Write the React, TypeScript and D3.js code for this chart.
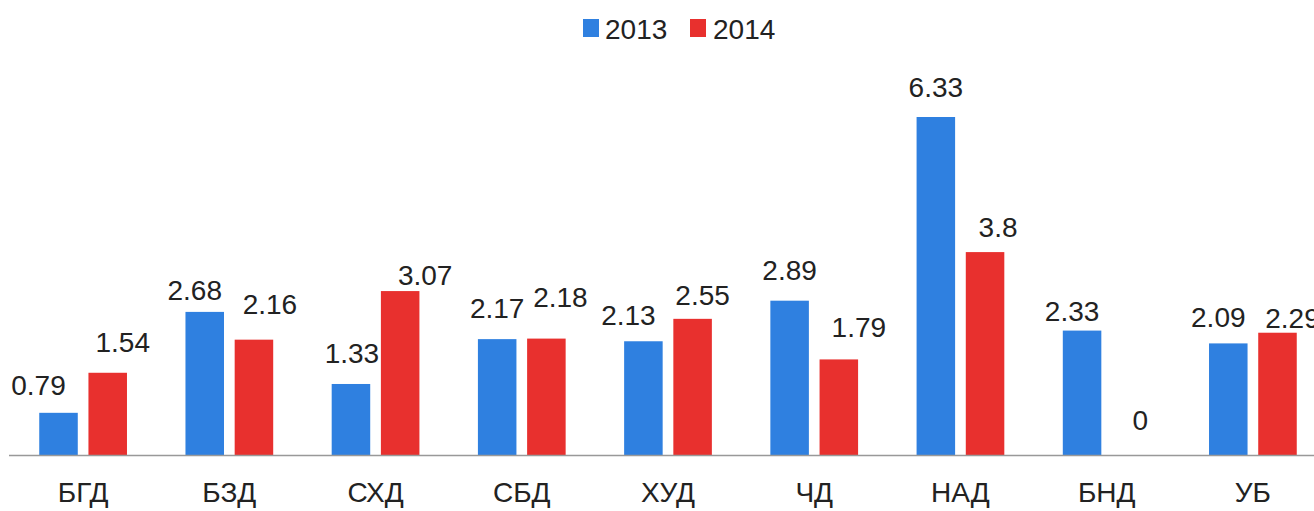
import React from "react";
import * as d3 from "d3";

const categories = ["БГД", "БЗД", "СХД", "СБД", "ХУД", "ЧД", "НАД", "БНД", "УБ"];
const seriesNames = ["2013", "2014"];
const values2013 = [0.79, 2.68, 1.33, 2.17, 2.13, 2.89, 6.33, 2.33, 2.09];
const values2014 = [1.54, 2.16, 3.07, 2.18, 2.55, 1.79, 3.8, 0, 2.29];
const valueLabels2013 = ["0.79", "2.68", "1.33", "2.17", "2.13", "2.89", "6.33", "2.33", "2.09"];
const valueLabels2014 = ["1.54", "2.16", "3.07", "2.18", "2.55", "1.79", "3.8", "0", "2.29"];

// annotation nudges (collision avoidance as in the original)
const nudgeX2013 = [-20, -10, 1, 0, -15, 0, 0, -10, -10];
const gap2013 = [18, 12, 21, 21, 16, 21, 20, 10, 16];
const nudgeX2014 = [15, 16, 25, 14, 10, 20, 13, 9, 15];
const gap2014 = [21, 26, 6, 32, 14, 22, 15, 25, 5];

const colors = ["#2f80e0", "#e8302e"];
const W = 1314;
const H = 511;
const FONT = "'Liberation Sans', Arial, sans-serif";

export default function App() {
  const x0 = d3.scaleBand<string>().domain(categories).range([10, 1326]).paddingInner(0.4).paddingOuter(0.2);
  const x1 = d3.scaleBand<string>().domain(seriesNames).range([0, x0.bandwidth()]).paddingInner(0.217);
  const y = d3.scaleLinear().domain([0, 6.33]).range([455, 117]);

  const series = [
    { name: seriesNames[0], values: values2013, labels: valueLabels2013, dx: nudgeX2013, gap: gap2013, color: colors[0] },
    { name: seriesNames[1], values: values2014, labels: valueLabels2014, dx: nudgeX2014, gap: gap2014, color: colors[1] },
  ];

  return (
    <svg width={W} height={H} style={{ position: "absolute", left: 0, top: 0, background: "#fff" }} fontFamily={FONT}>
      <rect x={0} y={0} width={W} height={H} fill="#fff" />
      {/* legend */}
      <g>
        <rect x={583} y={19} width={16} height={18} fill={colors[0]} />
        <text x={605} y={39} fontSize={28} fill="#222">{seriesNames[0]}</text>
        <rect x={690} y={19} width={16} height={18} fill={colors[1]} />
        <text x={713} y={39} fontSize={28} fill="#222">{seriesNames[1]}</text>
      </g>
      {/* bars */}
      {series.map((s) =>
        categories.map((c, i) => {
          const bx = (x0(c) as number) + (x1(s.name) as number);
          const bw = x1.bandwidth();
          const top = y(s.values[i]);
          return (
            <g key={s.name + c}>
              {s.values[i] > 0 && (
                <rect x={bx} y={top} width={bw} height={y(0) - top} fill={s.color} />
              )}
              <text
                x={bx + bw / 2 + s.dx[i]}
                y={top - s.gap[i]}
                textAnchor="middle"
                fontSize={28}
                fill="#222"
              >
                {s.labels[i]}
              </text>
            </g>
          );
        })
      )}
      {/* axis baseline */}
      <line x1={9} x2={W} y1={y(0) + 0.5} y2={y(0) + 0.5} stroke="#999" strokeWidth={1.5} />
      {/* category labels */}
      {categories.map((c) => (
        <text
          key={c}
          x={(x0(c) as number) + x0.bandwidth() / 2}
          y={502}
          textAnchor="middle"
          fontSize={28}
          fill="#222"
        >
          {c}
        </text>
      ))}
    </svg>
  );
}
